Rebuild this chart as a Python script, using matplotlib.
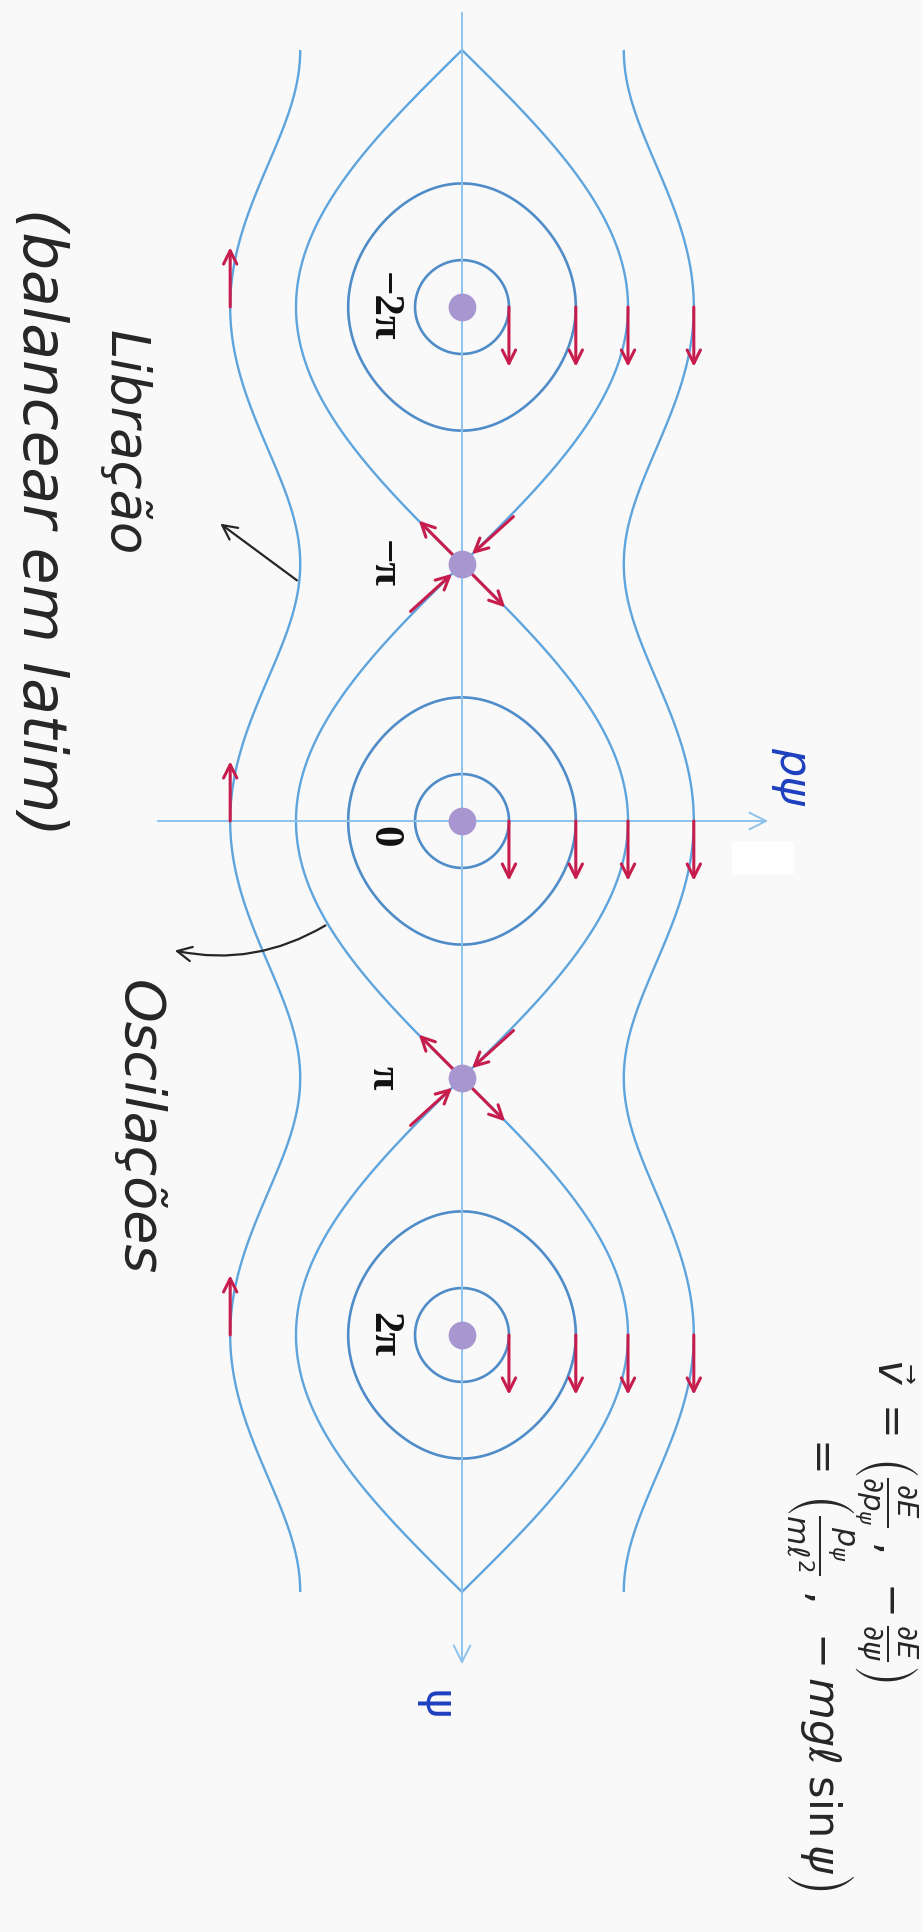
import numpy as np
import matplotlib.pyplot as plt
from matplotlib.patches import Rectangle

# pendulum phase portrait: E = p^2/2 - cos(psi)
centres = [-2 * np.pi, 0.0, 2 * np.pi]
saddles = [-np.pi, np.pi]
tick_values = [-2 * np.pi, -np.pi, 0.0, np.pi, 2 * np.pi]
tick_labels = ['−2π', '−π', '0', 'π', '2π']
orbit_levels = [-0.84, -0.06]      # closed orbits around the centres
separatrix_level = 1.0
rotation_level = 2.9               # open (rotating) trajectories
psi_span = 3 * np.pi

W, H = 922, 1932
X0, Y0 = 462, 821                  # pixel position of the origin
SX, SY = 83.0, 81.8                # pixels per unit of p and of psi

blue_orbit = '#4f8cc8'
blue_line = '#5ea4dd'
blue_axis = '#8ec3ec'
red = '#c71d4d'
dot_c = '#a896d0'
ink = '#262626'
pen_blue = '#1e3fbf'


def px_p(x):
    return (x - X0) / SX


def px_psi(y):
    return (y - Y0) / SY


def fig_xy(x, y):
    return x / W, 1 - y / H


fig = plt.figure(figsize=(W / 100, H / 100), dpi=100, facecolor='#f9f9f9')
fig.patches.append(Rectangle(fig_xy(732, 873), 61 / W, 31 / H,
                             transform=fig.transFigure, color='white', zorder=0))
ax = fig.add_axes([0, 0, 1, 1])
ax.set_xlim(px_p(0), px_p(W))
ax.set_ylim(px_psi(H), px_psi(0))
ax.axis('off')

# axes
ax.annotate('', xy=(px_p(771), 0), xytext=(px_p(155), 0),
            arrowprops=dict(arrowstyle='->', color=blue_axis, lw=1.4, mutation_scale=30))
ax.annotate('', xy=(0, px_psi(1667)), xytext=(0, px_psi(10)),
            arrowprops=dict(arrowstyle='->', color=blue_axis, lw=1.4, mutation_scale=30))

# level curves
p = np.linspace(-3.4, 3.4, 1400)
psi = np.linspace(-psi_span, psi_span, 3001)
P, PSI = np.meshgrid(p, psi)
E = P ** 2 / 2 - np.cos(PSI)
ax.contour(P, PSI, E, levels=orbit_levels, colors=blue_orbit, linewidths=1.9,
           linestyles='solid')
ax.contour(P, PSI, E, levels=[separatrix_level, rotation_level],
           colors=blue_line, linewidths=1.7, linestyles='solid')

# flow direction
arrow_kw = dict(arrowstyle='->', color=red, lw=2.2, mutation_scale=24, shrinkA=0, shrinkB=0)
step = 0.73
for c in centres:
    for lev in orbit_levels + [separatrix_level, rotation_level]:
        pc = np.sqrt(2 * (lev + np.cos(c)))
        ax.annotate('', xy=(pc, c + step), xytext=(pc, c), arrowprops=arrow_kw)
    pl = -np.sqrt(2 * (rotation_level + np.cos(c)))
    ax.annotate('', xy=(pl, c - step), xytext=(pl, c), arrowprops=arrow_kw)

for s in saddles:
    # unstable directions leave the saddle, stable ones come in
    for sign in (1, -1):
        ax.annotate('', xy=(sign * 0.52, s + sign * 0.53), xytext=(0, s), arrowprops=arrow_kw)
        ax.annotate('', xy=(sign * 0.12, s - sign * 0.12),
                    xytext=(sign * 0.62, s - sign * 0.58), arrowprops=arrow_kw)

fixed = centres + saddles
ax.plot(np.zeros(len(fixed)), fixed, 'o', ms=20, color=dot_c, mec='none', zorder=6)

# psi labels beside the vertical axis
for v, lab in zip(tick_values, tick_labels):
    y = Y0 + v * SY + (16 if v == 0 else 0)
    fig.text(*fig_xy(383, y), lab, rotation=-90, ha='center', va='center',
             fontsize=31, family='Liberation Serif', weight='bold', color='#111111')

fig.text(*fig_xy(793, 776), 'pψ', rotation=-90, ha='center', va='center',
         fontsize=32, color=pen_blue, style='italic')
fig.text(*fig_xy(436, 1705), 'ψ', rotation=-90, ha='center', va='center',
         fontsize=32, color=pen_blue)

# hand notes
note_kw = dict(rotation=-90, ha='center', va='center', color=ink, style='italic')
fig.text(*fig_xy(125, 443), 'Libração', fontsize=38, **note_kw)
fig.text(*fig_xy(40, 522), '(balancear em latim)', fontsize=43, **note_kw)
fig.text(*fig_xy(138, 1128), 'Oscilações', fontsize=40, **note_kw)

psi_lib = px_psi(582)
ax.annotate('', xy=(218, H - 522), xycoords='figure pixels',
            xytext=(-np.sqrt(2 * (rotation_level + np.cos(psi_lib))), psi_lib),
            textcoords='data',
            arrowprops=dict(arrowstyle='->', color=ink, lw=1.6, mutation_scale=26))
psi_osc = px_psi(924)
ax.annotate('', xy=(172, H - 950), xycoords='figure pixels',
            xytext=(-np.sqrt(2 * (separatrix_level + np.cos(psi_osc))), psi_osc),
            textcoords='data',
            arrowprops=dict(arrowstyle='->', color=ink, lw=1.6, mutation_scale=26,
                            connectionstyle='arc3,rad=-0.2'))

# velocity field of the Hamiltonian flow
fig.text(*fig_xy(886, 1520),
         r'$\vec{v}\;=\;\left(\frac{\partial E}{\partial p_\psi}\;,\;'
         r'-\frac{\partial E}{\partial \psi}\right)$',
         rotation=-90, ha='center', va='center', fontsize=30, color=ink)
fig.text(*fig_xy(820, 1660),
         r'$=\;\left(\frac{p_\psi}{m\ell^2}\;,\;-mg\ell\;\sin\psi\right)$',
         rotation=-90, ha='center', va='center', fontsize=31, color=ink)

fig.savefig('out.png', dpi=100, facecolor=fig.get_facecolor())
